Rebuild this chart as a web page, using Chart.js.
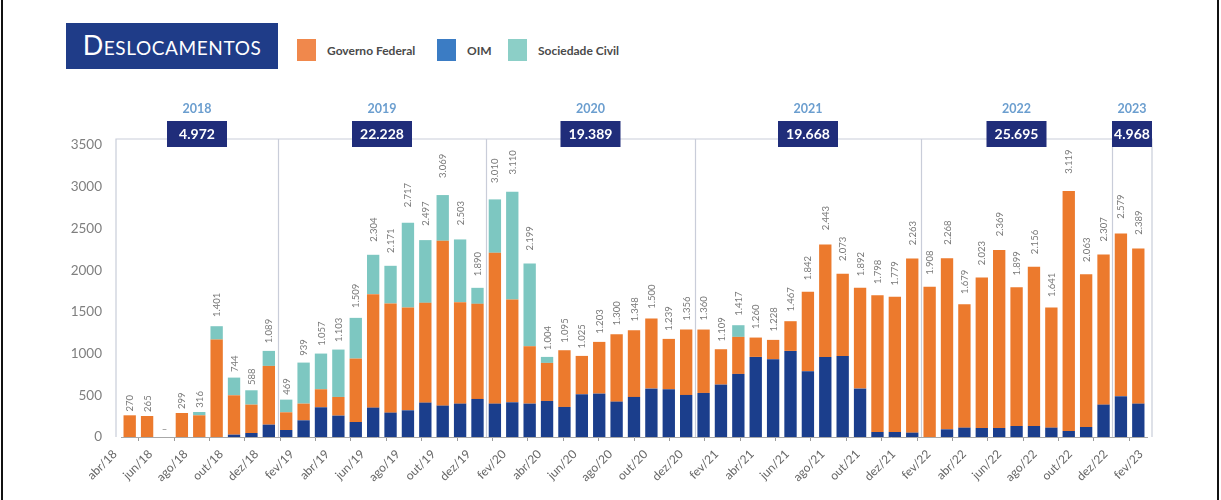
<!DOCTYPE html>
<html>
<head>
<meta charset="utf-8">
<script src="https://cdn.jsdelivr.net/npm/chart.js@4.4.1/dist/chart.umd.min.js"></script>
<style>
  html, body { margin: 0; padding: 0; background: #fff; }
  body { width: 1221px; height: 500px; position: relative; overflow: hidden; font-family: Lato, "Open Sans", sans-serif; }
  #edge { position: absolute; left: 1px; top: -4px; width: 1218px; height: 510px; border-left: 2px solid #111; border-right: 2px solid #111; box-sizing: border-box; }
  #title { position: absolute; left: 66px; top: 23px; width: 212px; height: 46px; background: #1f3c88; color: #fff;
    font-size: 27px; font-variant: small-caps; letter-spacing: 0.6px; line-height: 44px; text-align: center; }
  .leg { position: absolute; top: 39px; height: 22px; display: flex; align-items: center; font-size: 12px; font-weight: bold; color: #4a4a4a; }
  .leg i { display: inline-block; width: 19px; height: 22px; margin-right: 11px; }
  #chart { position: absolute; left: 0; top: 0; }
</style>
</head>
<body>
<div id="edge"></div>
<div id="title">Deslocamentos</div>
<div class="leg" style="left:297px"><i style="background:#f0884c"></i>Governo Federal</div>
<div class="leg" style="left:437px"><i style="background:#3b7cc4"></i>OIM</div>
<div class="leg" style="left:508px"><i style="background:#8ccfc7"></i>Sociedade Civil</div>
<canvas id="chart" width="1221" height="500"></canvas>
<script>
/* Deslocamentos por mês, abr/18 - fev/23 */
const months = [
  "abr/18", "mai/18", "jun/18", "jul/18", "ago/18", "set/18", "out/18", "nov/18", "dez/18",
  "jan/19", "fev/19", "mar/19", "abr/19", "mai/19", "jun/19", "jul/19", "ago/19", "set/19", "out/19", "nov/19", "dez/19",
  "jan/20", "fev/20", "mar/20", "abr/20", "mai/20", "jun/20", "jul/20", "ago/20", "set/20", "out/20", "nov/20", "dez/20",
  "jan/21", "fev/21", "mar/21", "abr/21", "mai/21", "jun/21", "jul/21", "ago/21", "set/21", "out/21", "nov/21", "dez/21",
  "jan/22", "fev/22", "mar/22", "abr/22", "mai/22", "jun/22", "jul/22", "ago/22", "set/22", "out/22", "nov/22", "dez/22",
  "jan/23", "fev/23"
];
const tickLabels = [
  "abr/18", "jun/18", "ago/18", "out/18", "dez/18", "fev/19", "abr/19", "jun/19", "ago/19", "out/19",
  "dez/19", "fev/20", "abr/20", "jun/20", "ago/20", "out/20", "dez/20", "fev/21", "abr/21", "jun/21",
  "ago/21", "out/21", "dez/21", "fev/22", "abr/22", "jun/22", "ago/22", "out/22", "dez/22", "fev/23"
];
// bar segments as drawn (the printed totals don't always match bar heights)
const oim = [
  0, 0, 0, 0, 0, 0, 28, 48, 148,
  84, 200, 356, 256, 180, 352, 292, 320, 412, 376, 400, 456,
  400, 416, 400, 432, 360, 512, 520, 424, 480, 580, 572, 504,
  528, 628, 756, 960, 932, 1032, 788, 960, 972, 580, 60, 60,
  52, 0, 92, 112, 108, 108, 132, 132, 112, 72, 120, 388,
  488, 400
];
const governo = [
  260, 252, 0, 288, 260, 1168, 472, 340, 704,
  212, 200, 216, 224, 760, 1360, 1308, 1232, 1196, 1976, 1216, 1140,
  1808, 1232, 688, 456, 680, 460, 620, 808, 800, 840, 604, 784,
  760, 424, 444, 232, 232, 356, 952, 1348, 984, 1208, 1640, 1620,
  2088, 1800, 2052, 1478, 1804, 2132, 1664, 1908, 1440, 2876, 1832, 1800,
  1952, 1860
];
const sociedade = [
  0, 0, 0, 0, 40, 160, 212, 172, 180,
  152, 492, 428, 568, 488, 472, 452, 1016, 752, 548, 752, 192,
  640, 1292, 992, 72, 0, 0, 0, 0, 0, 0, 0, 0,
  0, 0, 140, 0, 0, 0, 0, 0, 0, 0, 0, 0,
  0, 0, 0, 0, 0, 0, 0, 0, 0, 0, 0, 0,
  0, 0
];
const totals = [
  270, 265, 0, 299, 316, 1401, 744, 588, 1089,
  469, 939, 1057, 1103, 1509, 2304, 2171, 2717, 2497, 3069, 2503, 1890,
  3010, 3110, 2199, 1004, 1095, 1025, 1203, 1300, 1348, 1500, 1239, 1356,
  1360, 1109, 1417, 1260, 1228, 1467, 1842, 2443, 2073, 1892, 1798, 1779,
  2263, 1908, 2268, 1679, 2023, 2369, 1899, 2156, 1641, 3119, 2063, 2307,
  2579, 2389
];
const years = ["2018", "2019", "2020", "2021", "2022", "2023"];
const yearTotals = [4972, 22228, 19389, 19668, 25695, 4968];
// month index where each year block's divider line sits (as in the source figure)
const yearDividers = [9, 21, 33, 46, 57];

const C = { gov: "#ec7a2d", oim: "#1b3e8c", soc: "#7dc7c1", frame: "#c9cdd9", box: "#202d7a", year: "#6b9ecf", label: "#7a7a7a" };
const FONT = "Lato, 'Open Sans', sans-serif";
const fmt = n => String(n).replace(/\B(?=(\d{3})+(?!\d))/g, ".");

const decor = {
  id: "decor",
  beforeDatasetsDraw(chart) {
    const { ctx } = chart, x = chart.scales.x, y = chart.scales.y;
    const w = (x.right - x.left) / months.length;
    const L = x.left - 5, R = x.right + 5, T = y.top - 6, B = y.bottom;
    ctx.save();
    ctx.strokeStyle = C.frame;
    ctx.lineWidth = 1.2;
    ctx.beginPath();
    ctx.moveTo(L, B); ctx.lineTo(L, T); ctx.lineTo(R, T); ctx.lineTo(R, B);
    yearDividers.forEach(i => {
      const px = Math.round(x.left + i * w) + 0.5;
      ctx.moveTo(px, T); ctx.lineTo(px, B);
    });
    ctx.stroke();
    ctx.restore();
  },
  afterDatasetsDraw(chart) {
    const { ctx } = chart, x = chart.scales.x, y = chart.scales.y;
    const w = (x.right - x.left) / months.length;
    const L = x.left - 5, R = x.right + 5, T = y.top - 6;
    ctx.save();
    // totals above bars
    ctx.fillStyle = C.label;
    ctx.font = "9.5px " + FONT;
    totals.forEach((v, i) => {
      const px = x.getPixelForValue(i);
      if (!v) {
        ctx.textAlign = "center"; ctx.textBaseline = "middle";
        ctx.fillText("–", px, y.getPixelForValue(0) - 8);
        return;
      }
      ctx.save();
      ctx.translate(px + 0.5, y.getPixelForValue(v) - 3);
      ctx.rotate(-Math.PI / 2);
      ctx.textAlign = "left"; ctx.textBaseline = "middle";
      ctx.fillText(fmt(v), 0, 0);
      ctx.restore();
    });
    // year headers with totals
    const edges = [L, ...yearDividers.map(i => Math.round(x.left + i * w)), R];
    years.forEach((yr, k) => {
      const a = edges[k], b = edges[k + 1], cx = (a + b) / 2;
      ctx.fillStyle = C.year;
      ctx.font = "bold 12.5px " + FONT;
      ctx.textAlign = "center"; ctx.textBaseline = "middle";
      ctx.fillText(yr, cx, 109);
      const bw = Math.min(60, b - a);
      ctx.fillStyle = C.box;
      ctx.fillRect(cx - bw / 2, T - 18, bw, 26);
      ctx.fillStyle = "#fff";
      ctx.font = "bold 14px " + FONT;
      ctx.fillText(fmt(yearTotals[k]), cx, T - 4.5);
    });
    ctx.restore();
  }
};

new Chart(document.getElementById("chart"), {
  type: "bar",
  data: {
    labels: months,
    datasets: [
      { label: "OIM", data: oim, backgroundColor: C.oim },
      { label: "Governo Federal", data: governo, backgroundColor: C.gov },
      { label: "Sociedade Civil", data: sociedade, backgroundColor: C.soc }
    ]
  },
  options: {
    responsive: false,
    animation: false,
    devicePixelRatio: 1,
    layout: { padding: { top: 145, right: 74, bottom: 0, left: 0 } },
    datasets: { bar: { categoryPercentage: 1, barPercentage: 0.71, borderWidth: 0 } },
    plugins: { legend: { display: false }, tooltip: { enabled: false } },
    scales: {
      x: { stacked: true, display: false },
      x2: {
        type: "category", labels: tickLabels, offset: false, position: "bottom",
        grid: { display: true, drawOnChartArea: false, drawTicks: true, tickLength: 4, tickColor: "#9a9a9a", color: "#9a9a9a" },
        border: { display: true, color: "#a8a8a8" },
        ticks: { autoSkip: false, minRotation: 45, maxRotation: 45, labelOffset: -6, padding: 6, color: "#666", font: { family: FONT, size: 12 } },
        afterFit: s => { s.height = 63; }
      },
      y: {
        stacked: true, min: 0, max: 3500,
        grid: { display: false, drawTicks: false },
        border: { display: false },
        ticks: { stepSize: 500, padding: 19, color: "#7f7f7f", font: { family: FONT, size: 13.5 }, callback: v => String(v) },
        afterFit: s => { s.width = 121; }
      }
    }
  },
  plugins: [decor]
});
</script>
</body>
</html>
